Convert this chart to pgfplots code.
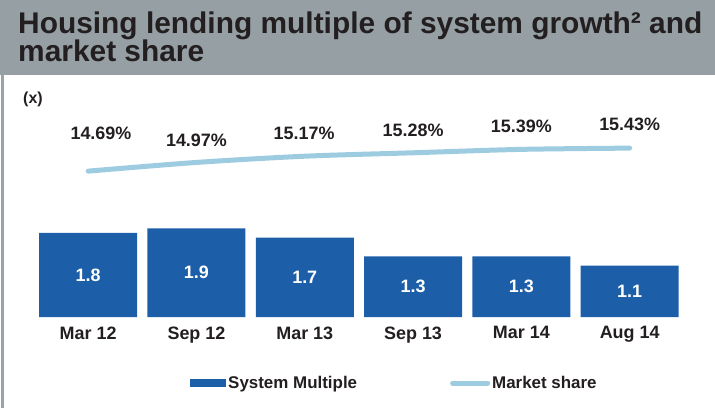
\documentclass[border=0pt]{standalone}
\usepackage{pgfplots}
\pgfplotsset{compat=1.18}
\usepackage{fontspec}
\setmainfont{Liberation Sans}
\definecolor{band}{HTML}{959FA4}
\definecolor{barblue}{HTML}{1C5FA8}
\definecolor{lineblue}{HTML}{9DCBE0}
\definecolor{txt}{HTML}{231F20}
\definecolor{framec}{HTML}{9AA3A8}
\begin{document}
\begin{tikzpicture}[x=1bp,y=1bp]
\path[use as bounding box] (0,0) rectangle (715,408);
\fill[white] (0,0) rectangle (715,408);
\fill[band] (0,333) rectangle (715,408);
\draw[framec, line width=2bp] (2.5,0) -- (2.5,333);
\node[anchor=base west, inner sep=0, text=txt, font=\bfseries\fontsize{30}{30}\selectfont] at (18,375) {Housing lending multiple of system growth² and};
\node[anchor=base west, inner sep=0, text=txt, font=\bfseries\fontsize{30}{30}\selectfont] at (18,347) {market share};
\node[anchor=base west, inner sep=0, text=txt, font=\bfseries\fontsize{16}{16}\selectfont] at (23,305) {(x)};

\begin{axis}[at={(34bp,91bp)}, anchor=south west, scale only axis,
  width=649.8bp, height=93.4bp,
  xmin=-0.5, xmax=5.5, ymin=0, ymax=2,
  axis line style={draw=none}, major tick length=0, ytick=\empty,
  xtick={0,...,5}, xticklabels={Mar 12,Sep 12,Mar 13,Sep 13,Mar 14,Aug 14},
  xticklabel style={font=\bfseries\fontsize{18}{18}\selectfont, text=txt, yshift=-6bp},
  /pgf/number format/assume math mode=true,
  clip=false, ybar, bar width=98bp,
  legend style={draw=none, fill=none, at={(0.2401,-0.7066)}, anchor=west,
    legend columns=2, inner sep=0pt, font=\bfseries\fontsize{17}{17}\selectfont, text=txt,
    /tikz/every even column/.append style={column sep=91bp},
    nodes={inner sep=2bp}},
  legend cell align=left]
\addplot[fill=barblue, draw=none,
  nodes near coords,
  visualization depends on=rawy\as\rawy,
  every node near coord/.append style={anchor=center, yshift=-\rawy*23.35bp, text=white, font=\bfseries\fontsize{18}{18}\selectfont},
  legend image code/.code={\fill[barblue] (0bp,-4bp) rectangle (36bp,4bp);}]
  coordinates {(0,1.8) (1,1.9) (2,1.7) (3,1.3) (4,1.3) (5,1.1)};
\addlegendentry{System Multiple}
\addlegendimage{legend image code/.code={\draw[lineblue, line width=5bp, line cap=round] (2.5bp,0bp) -- (37.5bp,0bp);}}
\addlegendentry{Market share}
\end{axis}

\begin{axis}[at={(34bp,91bp)}, anchor=south west, scale only axis,
  width=649.8bp, height=202.15bp,
  xmin=-0.5, xmax=5.5, ymin=10, ymax=16.5,
  hide axis, clip=false]
\addplot[lineblue, line width=5bp, line cap=round, smooth, tension=0.5,
  point meta=explicit symbolic,
  nodes near coords={\pgfplotspointmeta\%},
  visualization depends on={\thisrow{dx}\as\dx},
  visualization depends on={\thisrow{dy}\as\dy},
  every node near coord/.append style={anchor=center, xshift=\dx*1bp, yshift=\dy*1bp, text=txt, font=\bfseries\fontsize{18}{18}\selectfont}]
  table[x=x, y=y, meta=lab] {
x y dx dy lab
0 14.69 12.8 38.1 14.69
1 14.97 0 21.8 14.97
2 15.17 -0.6 23.2 15.17
3 15.28 0 22.2 15.28
4 15.39 0 22.7 15.39
5 15.43 0 23.8 15.43
};
\end{axis}
\end{tikzpicture}
\end{document}
